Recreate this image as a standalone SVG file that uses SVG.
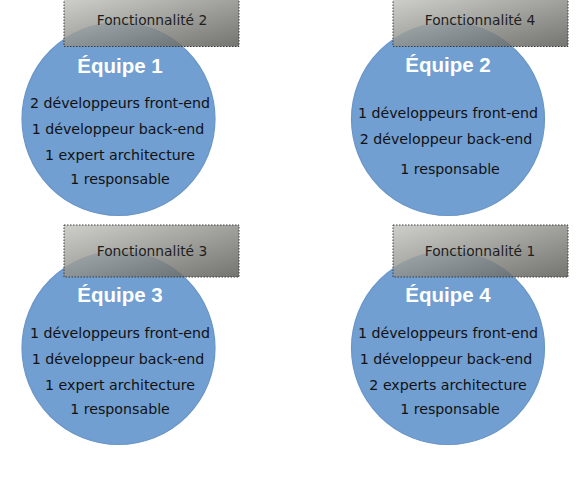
<svg xmlns="http://www.w3.org/2000/svg" width="585" height="478" viewBox="0 0 585 478">
<defs>
<linearGradient id="boxGrad" x1="0" y1="0" x2="1" y2="1">
<stop offset="0" stop-color="#c6c7c1"/>
<stop offset="1" stop-color="#5c5c57"/>
</linearGradient>
<style>
.team{fill:#719fd2;stroke:#6a96c8;stroke-width:1.2}
.box{fill:url(#boxGrad);fill-opacity:0.85;stroke:#3a3a3a;stroke-width:1;stroke-dasharray:1.5 1.5}
.boxt{font-family:"DejaVu Sans",sans-serif;font-size:13.8px;fill:#1e1e1e;text-anchor:middle}
.title{font-family:"Liberation Sans",Arial,sans-serif;font-weight:bold;font-size:20.5px;fill:#ffffff;text-anchor:middle}
.line{font-family:"DejaVu Sans",sans-serif;font-size:14.2px;fill:#111111;text-anchor:middle}
</style>
</defs>
<g id="connectors"/>
<g id="equipe1">
<circle class="team" cx="118.5" cy="119" r="96.5"/>
<rect class="box" x="64" y="-1" width="175" height="47.5"/>
<text class="boxt" x="152" y="25">Fonctionnalité 2</text>
<text class="title" x="120" y="73">Équipe 1</text>
<text class="line" x="120" y="108">2 développeurs front-end</text>
<text class="line" x="118" y="134">1 développeur back-end</text>
<text class="line" x="120" y="160">1 expert architecture</text>
<text class="line" x="120" y="184">1 responsable</text>
</g>
<g id="equipe2">
<circle class="team" cx="448" cy="119" r="96.5"/>
<rect class="box" x="393" y="-1" width="175" height="47.5"/>
<text class="boxt" x="480" y="25">Fonctionnalité 4</text>
<text class="title" x="448" y="72">Équipe 2</text>
<text class="line" x="448" y="118">1 développeurs front-end</text>
<text class="line" x="446" y="144">2 développeur back-end</text>
<text class="line" x="450" y="174">1 responsable</text>
</g>
<g id="equipe3">
<circle class="team" cx="118.5" cy="348" r="96.5"/>
<rect class="box" x="64" y="225" width="175" height="52"/>
<text class="boxt" x="152" y="256">Fonctionnalité 3</text>
<text class="title" x="120" y="302">Équipe 3</text>
<text class="line" x="120" y="338">1 développeurs front-end</text>
<text class="line" x="118" y="364">1 développeur back-end</text>
<text class="line" x="120" y="390">1 expert architecture</text>
<text class="line" x="120" y="414">1 responsable</text>
</g>
<g id="equipe4">
<circle class="team" cx="448" cy="348" r="96.5"/>
<rect class="box" x="393" y="225" width="175" height="52"/>
<text class="boxt" x="480" y="256">Fonctionnalité 1</text>
<text class="title" x="448" y="302">Équipe 4</text>
<text class="line" x="448" y="338">1 développeurs front-end</text>
<text class="line" x="446" y="364">1 développeur back-end</text>
<text class="line" x="448" y="390">2 experts architecture</text>
<text class="line" x="450" y="414">1 responsable</text>
</g>
</svg>
